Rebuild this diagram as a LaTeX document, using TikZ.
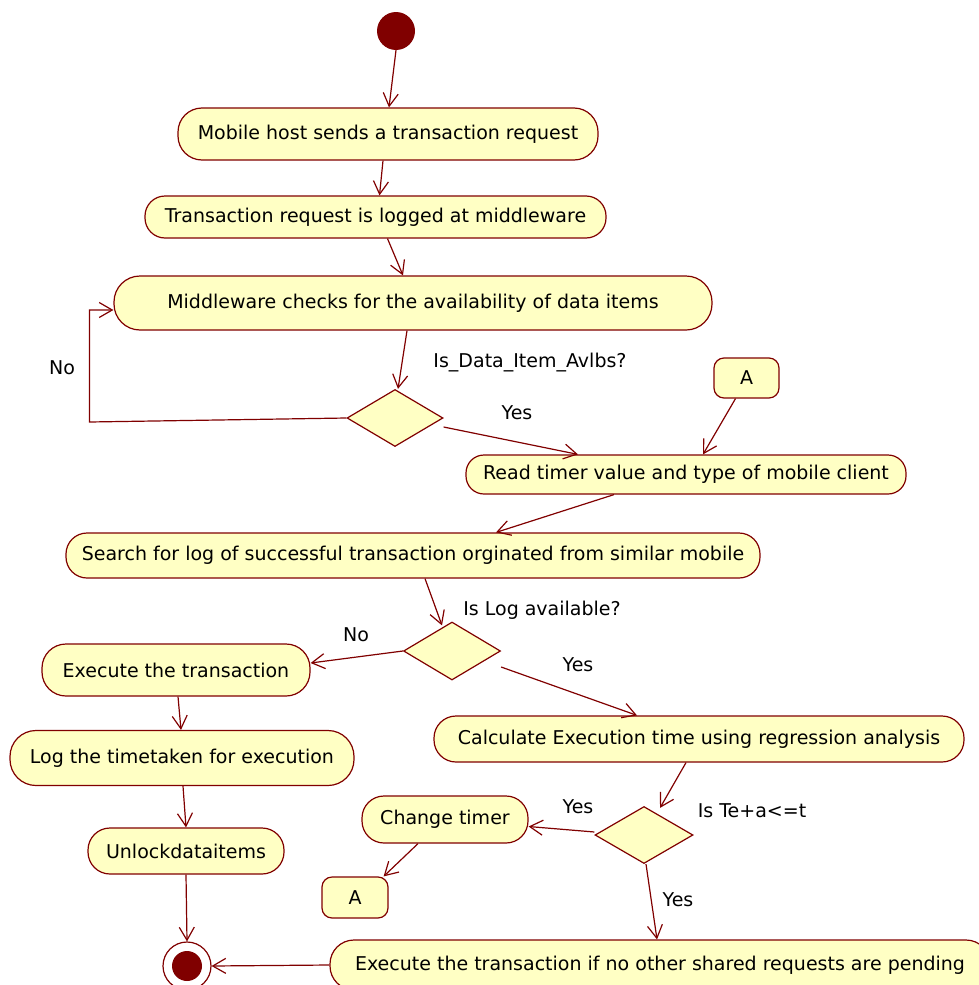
\documentclass[tikz,border=0pt]{standalone}
\usepackage{fontspec}
\setmainfont{DejaVu Sans}
\usetikzlibrary{arrows.meta,shapes.geometric}
\definecolor{dred}{RGB}{128,0,0}
\definecolor{lyellow}{RGB}{255,255,196}
\tikzset{
  act/.style={draw=dred, fill=lyellow, line width=1.2pt, inner sep=0pt, font=\fontsize{19}{22}\selectfont},
  dec/.style={draw=dred, fill=lyellow, line width=1.2pt, diamond, inner sep=0pt},
  lbl/.style={font=\fontsize{19}{22}\selectfont, inner sep=0pt},
  arr/.style={draw=dred, line width=1.2pt, -{Straight Barb[length=13pt,width=15pt,line width=1.2pt]}}
}
\begin{document}
\begin{tikzpicture}[x=1pt,y=-1pt]
\useasboundingbox (0,0) rectangle (978,985);
% start
\node[circle, fill=dred, minimum size=38pt, inner sep=0pt] (start) at (396,31) {};
% activities
\node[act, rounded corners=24pt, minimum width=420pt, minimum height=52pt] (n1) at (388,134) {Mobile host sends a transaction request};
\node[act, rounded corners=20pt, minimum width=461pt, minimum height=42pt] (n2) at (375.5,217) {Transaction request is logged at middleware};
\node[act, rounded corners=26pt, minimum width=598pt, minimum height=54pt] (n3) at (413,303) {Middleware checks for the availability of data items};
\node[dec, minimum width=96pt, minimum height=57pt] (d1) at (395,418) {};
\node[act, rounded corners=10pt, minimum width=65pt, minimum height=40pt] (a1) at (746.5,378) {A};
\node[act, rounded corners=18pt, minimum width=440pt, minimum height=39pt] (n4) at (686,474.5) {Read timer value and type of mobile client};
\node[act, rounded corners=21pt, minimum width=694pt, minimum height=45pt] (n5) at (413,555.5) {Search for log of successful transaction orginated from similar mobile};
\node[dec, minimum width=97pt, minimum height=58pt] (d2) at (452,651) {};
\node[act, rounded corners=24pt, minimum width=268pt, minimum height=52pt] (n6) at (176,670) {Execute the transaction};
\node[act, rounded corners=26pt, minimum width=344pt, minimum height=55pt] (n7) at (182,758) {Log the timetaken for execution};
\node[act, rounded corners=22pt, minimum width=196pt, minimum height=46pt] (n8) at (186,851) {Unlockdataitems};
\node[act, rounded corners=22pt, minimum width=530pt, minimum height=46pt] (n9) at (699,739) {Calculate Execution time using regression analysis};
\node[dec, minimum width=98pt, minimum height=57pt] (d3) at (644,835) {};
\node[act, rounded corners=22pt, minimum width=166pt, minimum height=47pt] (n10) at (445,819.5) {Change timer};
\node[act, rounded corners=10pt, minimum width=66pt, minimum height=41pt] (a2) at (355,897.5) {A};
\node[act, rounded corners=24pt, minimum width=660pt, minimum height=50pt] (n11) at (660,965) {Execute the transaction if no other shared requests are pending};
% end
\node[circle, draw=dred, fill=white, line width=1.2pt, minimum size=48pt, inner sep=0pt] (end) at (187,966) {};
\node[circle, fill=dred, minimum size=30pt, inner sep=0pt] (endin) at (end.center) {};
% labels
\node[lbl] (l1) at (530,363) {Is\_Data\_Item\_Avlbs?};
\node[lbl] (l2) at (62,368) {No};
\node[lbl] (l3) at (517,413) {Yes};
\node[lbl] (l4) at (542,610) {Is Log available?};
\node[lbl] (l5) at (356,635) {No};
\node[lbl] (l6) at (578,665) {Yes};
\node[lbl] (l7) at (578,807) {Yes};
\node[lbl] (l8) at (752,811) {Is Te+a<=t};
\node[lbl] (l9) at (678,900) {Yes};
% connectors
\draw[arr] (start.south) -- ([xshift=1pt]n1.north);
\draw[arr] ([xshift=-5pt]n1.south) -- ([xshift=4pt]n2.north);
\draw[arr] ([xshift=12pt]n2.south) -- ([xshift=-10pt]n3.north);
\draw[arr] ([xshift=-6pt]n3.south) -- ([xshift=3pt]d1.north);
\draw[arr] (d1.west) -- ++(-257,4) |- ([yshift=-7pt]n3.west);
\draw[arr] ([yshift=-9pt]d1.east) -- ([xshift=-108pt]n4.north);
\draw[arr] ([xshift=-11pt]a1.south) -- ([xshift=17pt]n4.north);
\draw[arr] ([xshift=-72pt]n4.south) -- ([xshift=83pt]n5.north);
\draw[arr] ([xshift=12pt]n5.south) -- ([xshift=-10pt,yshift=-4pt]d2.north);
\draw[arr] (d2.west) -- ([yshift=7pt]n6.east);
\draw[arr] ([yshift=-16pt]d2.east) -- ([xshift=-62pt]n9.north);
\draw[arr] ([xshift=2pt]n6.south) -- ([xshift=-1pt]n7.north);
\draw[arr] ([xshift=1pt]n7.south) -- (n8.north);
\draw[arr] (n8.south) -- (end.north);
\draw[arr] ([xshift=-13pt]n9.south) -- ([xshift=16pt,yshift=-2pt]d3.north);
\draw[arr] ([yshift=3pt]d3.west) -- ([yshift=-7pt]n10.east);
\draw[arr] ([xshift=-27pt]n10.south) -- ([xshift=-5pt]a2.north east);
\draw[arr] ([xshift=2pt]d3.south) -- ([xshift=-3pt]n11.north);
\draw[arr] (n11.west) -- (end.east);
\end{tikzpicture}
\end{document}
